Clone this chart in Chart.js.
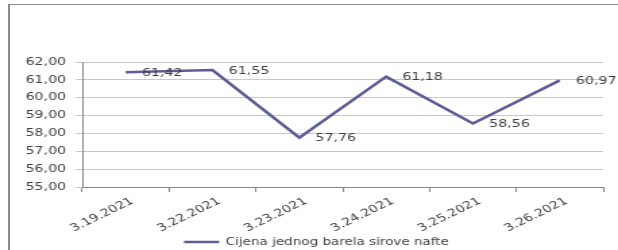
<!DOCTYPE html>
<html>
<head>
<meta charset="utf-8">
<script src="https://cdn.jsdelivr.net/npm/chart.js@4.4.1/dist/chart.umd.min.js"></script>
<style>
  html, body { margin: 0; padding: 0; background: #fff; }
  #wrap { position: relative; width: 618px; height: 250px; overflow: hidden; }
  #frame {
    position: absolute; left: 8px; top: 4px; width: 640px; height: 260px;
    border-left: 2px solid #8c8c8c; border-top: 1px solid #8c8c8c;
  }
  #oilChart { position: absolute; left: 0; top: 0; }
</style>
</head>
<body>
<div id="wrap">
  <div id="frame"></div>
  <!-- drawn narrow and stretched sideways, like the pasted picture -->
  <canvas id="oilChart" width="458" height="250" style="width:618px;height:250px"></canvas>
</div>
<script>
const dates = ["3.19.2021", "3.22.2021", "3.23.2021", "3.24.2021", "3.25.2021", "3.26.2021"];
const prices = [61.42, 61.55, 57.76, 61.18, 58.56, 60.97];
const seriesName = "Cijena jednog barela sirove nafte";
const yMin = 55;
const yMax = 62;

const textColor = "#404040";
const axisColor = "#868686";
const lineColor = "#5c5c97";
const font = { family: "DejaVu Sans", size: 10.5 };

function comma(v) {
  return Number(v).toFixed(2).replace(".", ",");
}

const valueLabels = {
  id: "valueLabels",
  afterDatasetsDraw(chart) {
    const ctx = chart.ctx;
    const meta = chart.getDatasetMeta(0);
    ctx.save();
    ctx.font = "10.5px 'DejaVu Sans'";
    ctx.fillStyle = textColor;
    ctx.textAlign = "left";
    ctx.textBaseline = "middle";
    meta.data.forEach((pt, i) => {
      ctx.fillText(comma(prices[i]), pt.x + 12, pt.y + 1);
    });
    ctx.restore();
  },
};

// legend sits a bit right of centre in the original
const legendNudge = {
  id: "legendNudge",
  afterLayout(chart) {
    chart.legend.left += 11;
    chart.legend.right += 11;
  },
};

new Chart(document.getElementById("oilChart"), {
  type: "line",
  data: {
    labels: dates,
    datasets: [
      {
        label: seriesName,
        data: prices,
        borderColor: lineColor,
        backgroundColor: lineColor,
        borderWidth: 2.5,
        pointRadius: 0,
        tension: 0,
      },
    ],
  },
  options: {
    responsive: false,
    animation: false,
    layout: { padding: { top: 62, left: 0, right: 11, bottom: -7 } },
    scales: {
      x: {
        offset: true,
        grid: { offset: true, drawOnChartArea: false, tickLength: 5, color: axisColor },
        border: { color: axisColor },
        ticks: { minRotation: 33, maxRotation: 33, padding: 3, labelOffset: 5, color: textColor, font },
        afterFit(s) { s.height = 50; },
      },
      y: {
        min: yMin,
        max: yMax,
        grid: { color: "#c8c8c8", tickLength: 5 },
        border: { color: axisColor },
        ticks: { stepSize: 1, padding: 7, color: textColor, font, callback: (v) => comma(v) },
        afterFit(s) { s.width = 61; },
      },
    },
    plugins: {
      tooltip: { enabled: false },
      legend: {
        position: "bottom",
        labels: {
          usePointStyle: true,
          pointStyle: "line",
          pointStyleWidth: 26,
          boxHeight: 10,
          padding: 0,
          color: textColor,
          font: { family: "DejaVu Sans", size: 10 },
        },
      },
    },
  },
  plugins: [valueLabels, legendNudge],
});
</script>
</body>
</html>
